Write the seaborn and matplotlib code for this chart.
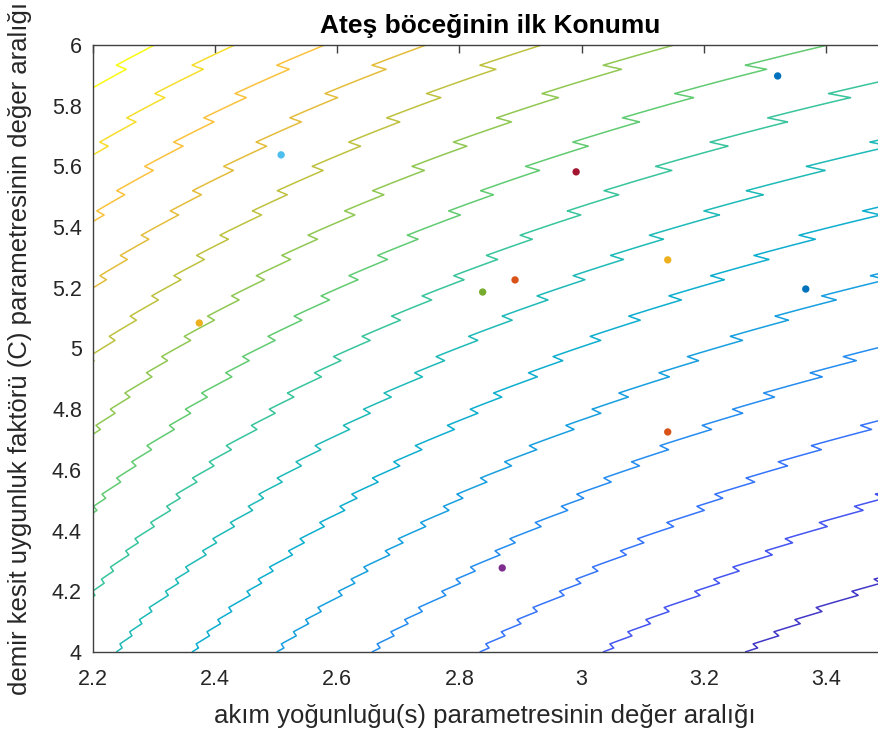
import numpy as np
import pandas as pd
import matplotlib
matplotlib.use("Agg")
import matplotlib.pyplot as plt
from matplotlib.colors import LinearSegmentedColormap
import seaborn as sns

# ---- data -------------------------------------------------------------
title_text = "Ateş böceğinin ilk Konumu"
xlabel_text = "akım yoğunluğu(s) parametresinin değer aralığı"
ylabel_text = "demir kesit uygunluk faktörü (C) parametresinin değer aralığı"

# firefly initial positions
firefly_s = [3.321, 2.508, 2.991, 3.141, 2.891, 2.838, 3.367, 2.374, 3.141, 2.870]
firefly_C = [5.898, 5.638, 5.582, 5.292, 5.226, 5.186, 5.196, 5.084, 4.725, 4.277]
firefly_colors = ["#0072BD", "#4DBEEE", "#A2142F", "#EDB120", "#D95319",
                  "#77AC30", "#0072BD", "#EDB120", "#D95319", "#7E2F8E"]

# objective surface parameters (fitness landscape behind the fireflies)
s_range = [2.2, 3.5]
C_range = [4.0, 6.0]
coef_s = 101.0        # weight of 1/s term
quant_K = 400.0       # quantisation constant (steps in C)
quant_beta = 6.5      # strength of the quantisation step
contour_levels = [44.54, 46.91, 49.28, 51.65, 54.02, 56.39, 58.76, 61.13,
                  63.50, 65.87, 68.24, 70.61, 72.98, 75.35, 77.72, 80.09]
color_low, color_high = 45.3, 80.09

x_ticks = [2.2, 2.4, 2.6, 2.8, 3.0, 3.2, 3.4]
x_ticklabels = ["2.2", "2.4", "2.6", "2.8", "3", "3.2", "3.4"]
y_ticks = [4.0, 4.2, 4.4, 4.6, 4.8, 5.0, 5.2, 5.4, 5.6, 5.8, 6.0]
y_ticklabels = ["4", "4.2", "4.4", "4.6", "4.8", "5", "5.2", "5.4", "5.6", "5.8", "6"]

# parula-like colormap anchors
parula_pos = [0.00, 0.10, 0.20, 0.30, 0.40, 0.50, 0.60, 0.70, 0.80, 0.87, 0.95, 1.00]
parula_rgb = [(0.2422, 0.1504, 0.6603), (0.2770, 0.3090, 0.9400),
              (0.1900, 0.4900, 0.9900), (0.1000, 0.6100, 0.8900),
              (0.0500, 0.6900, 0.8000), (0.1700, 0.7600, 0.6600),
              (0.4000, 0.8000, 0.4300), (0.6800, 0.7700, 0.2500),
              (0.9000, 0.7400, 0.2300), (0.9900, 0.7600, 0.2400),
              (0.9600, 0.9000, 0.1600), (0.9769, 0.9839, 0.0805)]

# ---- figure -----------------------------------------------------------
sns.set_style("white")
plt.rcParams["font.family"] = ["Liberation Sans", "DejaVu Sans"]
text_color = "#262626"

parula = LinearSegmentedColormap.from_list("parula", list(zip(parula_pos, parula_rgb)))

fig = plt.figure(figsize=(8.79, 7.34), dpi=100)
W, H = 879, 734
ax = fig.add_axes([93 / W, (H - 652) / H, 794 / W, 607 / H])

sg = np.linspace(s_range[0], s_range[1], 160)
cg = np.linspace(C_range[0], C_range[1], 151)
S, Cm = np.meshgrid(sg, cg)
Z = coef_s / S + Cm ** 2 - quant_beta * (quant_K / np.round(quant_K / Cm) - Cm)

ax.contour(S, Cm, Z, levels=contour_levels, cmap=parula,
           vmin=color_low, vmax=color_high, linewidths=1.1)

df = pd.DataFrame({"s": firefly_s, "C": firefly_C,
                   "id": [str(i) for i in range(len(firefly_s))]})
sns.scatterplot(data=df, x="s", y="C", hue="id", palette=firefly_colors,
                legend=False, s=28, linewidth=0, ax=ax, zorder=5)

ax.set_xlim(*s_range)
ax.set_ylim(*C_range)
ax.set_xticks(x_ticks)
ax.set_xticklabels(x_ticklabels)
ax.set_yticks(y_ticks)
ax.set_yticklabels(y_ticklabels)
ax.tick_params(axis="x", pad=12)
ax.tick_params(axis="y", pad=8)
ax.tick_params(direction="in", length=6, width=1, colors="#404040",
               labelcolor=text_color, labelsize=15.5, top=True, right=True)
for sp in ax.spines.values():
    sp.set_visible(True)
    sp.set_color("#404040")
    sp.set_linewidth(1.0)

ax.set_title(title_text, fontsize=19, fontweight="bold", color="black", pad=9)
ax.set_xlabel(xlabel_text, fontsize=18.5, color=text_color)
ax.set_ylabel(ylabel_text, fontsize=18.5, color=text_color)
ax.xaxis.set_label_coords((485 - 93) / 794, -(704 - 652) / 607)
ax.yaxis.set_label_coords((32 - 93) / 794, 0.5)

fig.savefig("out.png", dpi=100)
